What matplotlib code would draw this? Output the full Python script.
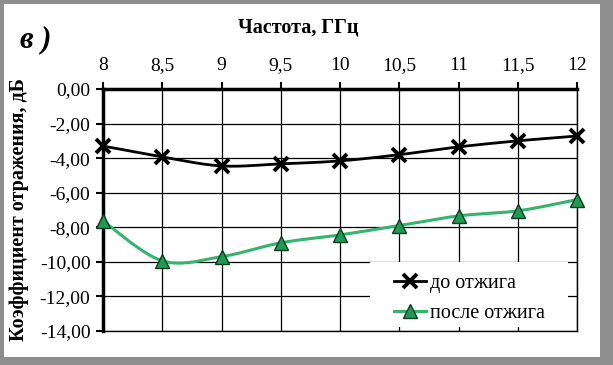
import numpy as np
import matplotlib.pyplot as plt
from matplotlib.patches import Rectangle
from matplotlib.ticker import FuncFormatter

plt.rcParams['font.family'] = ['Liberation Serif', 'DejaVu Serif']

# Данные
freq = [8, 8.5, 9, 9.5, 10, 10.5, 11, 11.5, 12]
do_otzhiga = [-3.30, -3.93, -4.45, -4.33, -4.16, -3.80, -3.35, -3.00, -2.72]
posle_otzhiga = [-7.63, -9.94, -9.70, -8.90, -8.44, -7.90, -7.34, -7.05, -6.40]
x_ticks = [8, 8.5, 9, 9.5, 10, 10.5, 11, 11.5, 12]
y_ticks = [0, -2, -4, -6, -8, -10, -12, -14]


# Сглаживание линии как в Excel (кривые Безье через точки)
def smooth(x, y, n=30):
    x = np.asarray(x, float)
    y = np.asarray(y, float)
    xs, ys = [], []
    for i in range(len(x) - 1):
        x0, y0 = (x[i - 1], y[i - 1]) if i > 0 else (x[i], y[i])
        x3, y3 = (x[i + 2], y[i + 2]) if i + 2 < len(x) else (x[i + 1], y[i + 1])
        c1x = x[i] + (x[i + 1] - x0) / 6
        c1y = y[i] + (y[i + 1] - y0) / 6
        c2x = x[i + 1] - (x3 - x[i]) / 6
        c2y = y[i + 1] - (y3 - y[i]) / 6
        t = np.linspace(0, 1, n)
        b = [(1 - t)**3, 3 * (1 - t)**2 * t, 3 * (1 - t) * t**2, t**3]
        xs.append(b[0] * x[i] + b[1] * c1x + b[2] * c2x + b[3] * x[i + 1])
        ys.append(b[0] * y[i] + b[1] * c1y + b[2] * c2y + b[3] * y[i + 1])
    return np.concatenate(xs), np.concatenate(ys)


fig = plt.figure(figsize=(6.13, 3.65), dpi=100, facecolor='#8e8e8e')
fig.patches.append(Rectangle((4 / 613, 8 / 365), 596 / 613, 353 / 365,
                             transform=fig.transFigure, facecolor='white',
                             edgecolor='none', zorder=-10))

ax = fig.add_axes([103 / 613, 1 - 331 / 365, 474 / 613, 242 / 365])
ax.set_xlim(8, 12)
ax.set_ylim(-14, 0)

green = '#34b56e'
tri_fill = '#1f9a55'
tri_edge = '#0b3d1c'

sx, sy = smooth(freq, do_otzhiga)
ax.plot(sx, sy, color='black', lw=2, zorder=3)
ax.plot(freq, do_otzhiga, ls='none', marker='x', ms=10, mew=2.8,
        color='black', zorder=4, clip_on=False)
sx, sy = smooth(freq, posle_otzhiga)
ax.plot(sx, sy, color=green, lw=2.2, zorder=3)
ax.plot(freq, posle_otzhiga, ls='none', marker='^', ms=10, mfc=tri_fill,
        mec=tri_edge, mew=1.0, zorder=4, clip_on=False)

# белая подложка легенды поверх сетки
ax.add_patch(Rectangle((0.563, 0.017), 0.418, 0.268, transform=ax.transAxes,
                       facecolor='white', edgecolor='none', zorder=2.5))

h1, = ax.plot([], [], color='black', lw=2, marker='x', ms=10, mew=2.8)
h2, = ax.plot([], [], color=green, lw=2.2, marker='^', ms=10,
              mfc=tri_fill, mec=tri_edge, mew=1.0)
leg = ax.legend([h1, h2], ['до отжига', 'после отжига'], loc='upper left',
                bbox_to_anchor=(0.613, 0.235), frameon=False, fontsize=14.5,
                handlelength=1.6, handletextpad=0.2, labelspacing=0.55,
                borderpad=0, borderaxespad=0)
leg.set_zorder(5)

ax.set_xticks(x_ticks)
ax.set_yticks(y_ticks)
ax.xaxis.set_major_formatter(FuncFormatter(lambda v, p: f'{v:g}'.replace('.', ',')))
ax.yaxis.set_major_formatter(FuncFormatter(lambda v, p: f'{v:.2f}'.replace('.', ',').replace('-0,00', '0,00')))
ax.xaxis.tick_top()
ax.tick_params(axis='x', which='major', direction='out', length=5, width=1.5,
               labelsize=14, pad=6, colors='black')
ax.tick_params(axis='y', which='major', direction='out', length=5, width=1.5,
               labelsize=14, pad=4)
ax.grid(True, color='black', lw=0.9)
ax.set_axisbelow(True)

for s in ['top', 'left']:
    ax.spines[s].set_linewidth(2.5)
for s in ['bottom', 'right']:
    ax.spines[s].set_linewidth(1.0)

ax.set_ylabel('Коэффициент отражения, дБ', fontsize=14.5, fontweight='bold')
ax.yaxis.set_label_coords(-0.156, 0.5)
fig.text(298 / 613, 1 - 28 / 365, 'Частота, ГГц', fontsize=14.5,
         fontweight='bold', ha='center', va='center')
fig.text(20 / 613, 1 - 40 / 365, 'в )', fontsize=22, fontweight='bold',
         fontstyle='italic', ha='left', va='center')

fig.savefig('out.png', dpi=100, facecolor=fig.get_facecolor())
